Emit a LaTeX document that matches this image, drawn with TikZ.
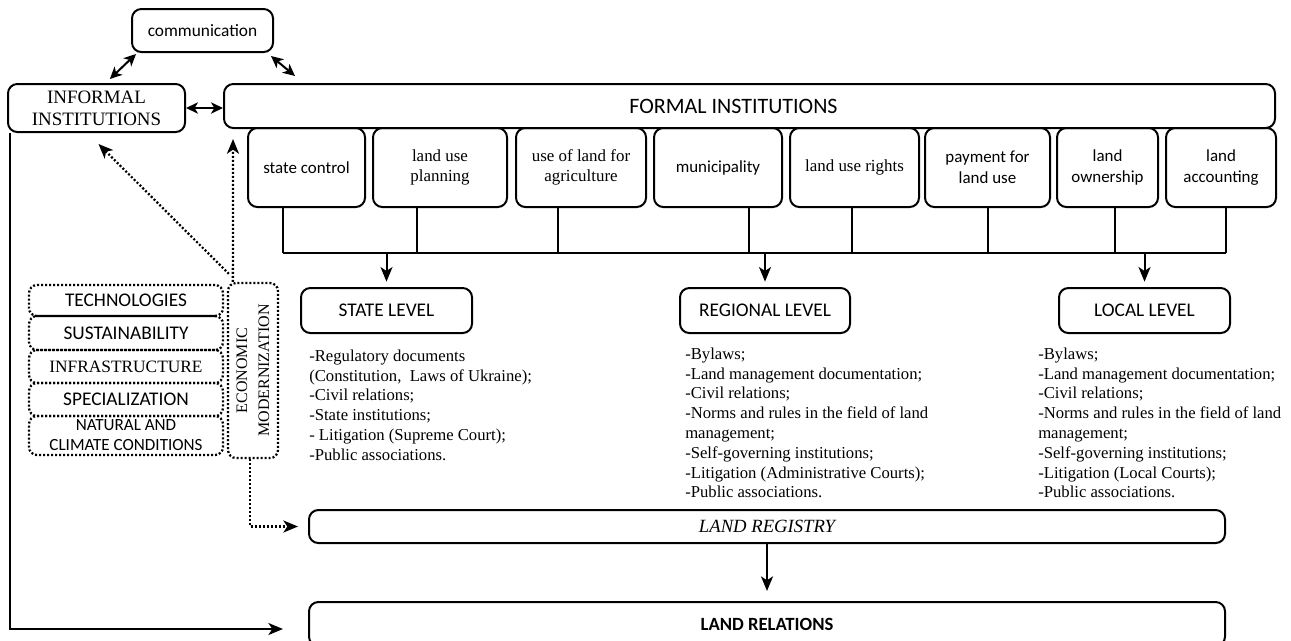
\documentclass[tikz,border=0pt]{standalone}
\usepackage{fontspec}
\setmainfont{Liberation Serif}
\setsansfont{Carlito}
\usetikzlibrary{arrows.meta,calc}

\begin{document}
\begin{tikzpicture}[x=0.75pt, y=-0.75pt,
  sz/.style 2 args={minimum width=#1*0.75pt, minimum height=#2*0.75pt},
  box/.style={draw, line width=1.5pt, rounded corners=7pt, inner sep=0pt, align=center},
  dotbox/.style={draw, line width=1.7pt, dash pattern=on 1.5pt off 1.5pt, rounded corners=6pt, inner sep=0pt, align=center},
  sans/.style={font=\sffamily\fontsize{12.7}{15.5}\selectfont},
  sansbig/.style={font=\sffamily\fontsize{14.5}{15}\selectfont},
  serif/.style={font=\fontsize{12.7}{15.5}\selectfont},
  list/.style={font=\fontsize{12.5}{14.85}\selectfont, align=left, inner sep=0pt, anchor=north west},
  line/.style={line width=1pt},
  tip/.style={-{Stealth[length=11pt,width=9pt,inset=3pt]}},
  arr/.style={line width=1.5pt, tip},
  dblarr/.style={line width=1.5pt, {Stealth[length=9pt,width=8.5pt,inset=2.5pt]}-{Stealth[length=9pt,width=8.5pt,inset=2.5pt]}},
  dotarr/.style={line width=1.7pt, dash pattern=on 1.5pt off 1.5pt, tip}]
\useasboundingbox (0,0) rectangle (1291,640);

\node[box, font=\sffamily\fontsize{13}{15.5}\selectfont, sz={141}{43}] (comm) at (202.5,30.5) {communication};
\node[box, sz={177}{48}, font=\fontsize{14.2}{16.5}\selectfont] (informal) at (96.5,108) {INFORMAL\\INSTITUTIONS};
\node[box, sz={1051}{44}, font=\sffamily\fontsize{16.5}{18}\selectfont] (formal) at (749.5,106) {FORMAL INSTITUTIONS\hspace*{24pt}};

\node[box, sans, sz={117}{79}] (sc) at (306.5,167.5) {state control};
\node[box, serif, sz={134}{79}] (lup) at (440,167.5) {land use\\planning};
\node[box, serif, sz={130}{79}] (agr) at (581,167.5) {use of land for\\agriculture};
\node[box, sans, sz={128}{79}] (mun) at (718,167.5) {municipality};
\node[box, serif, sz={129}{79}] (lur) at (854.5,167.5) {land use rights};
\node[box, sans, sz={125}{79}] (pay) at (987.5,167.5) {payment for\\land use};
\node[box, sans, sz={101}{79}] (own) at (1107.5,167.5) {land\\ownership};
\node[box, sans, sz={110}{79}] (acc) at (1221,167.5) {land\\accounting};

\node[box, sansbig, sz={171}{45}] (state) at (386.5,310.5) {STATE LEVEL};
\node[box, sansbig, sz={170}{45}] (regional) at (765,310.5) {REGIONAL LEVEL};
\node[box, sansbig, sz={171}{45}] (local) at (1144.5,310.5) {LOCAL LEVEL};

\node[list] (statelist) at (309,349.5) {-Regulatory documents\\(Constitution, \ Laws of Ukraine);\\-Civil relations;\\-State institutions;\\- Litigation (Supreme Court);\\-Public associations.};
\node[list] (reglist) at (685,347.5) {-Bylaws;\\-Land management documentation;\\-Civil relations;\\-Norms and rules in the field of land\\management;\\-Self-governing institutions;\\-Litigation (Administrative Courts);\\-Public associations.};
\node[list] (loclist) at (1038,347.5) {-Bylaws;\\-Land management documentation;\\-Civil relations;\\-Norms and rules in the field of land\\management;\\-Self-governing institutions;\\-Litigation (Local Courts);\\-Public associations.};

\node[box, sz={916}{33}, font=\itshape\fontsize{14}{16}\selectfont] (registry) at (767,526.5) {LAND REGISTRY};
\node[box, sz={916}{44}, font=\sffamily\bfseries\fontsize{14}{16}\selectfont] (relations) at (767,624) {LAND RELATIONS};

\node[dotbox, sansbig, sz={194}{31}] (tech) at (126,300.5) {TECHNOLOGIES};
\node[dotbox, sansbig, sz={194}{34}] (sust) at (126,333) {SUSTAINABILITY};
\node[dotbox, sz={194}{33}, font=\fontsize{13}{15}\selectfont] (infra) at (126,366.5) {INFRASTRUCTURE};
\node[dotbox, sansbig, sz={194}{33}] (spec) at (126,399.5) {SPECIALIZATION};
\node[dotbox, sz={194}{39}, font=\sffamily\fontsize{12.8}{15}\selectfont] (nat) at (126,435.5) {NATURAL AND\\CLIMATE CONDITIONS};
\node[dotbox, rotate=90, sz={175}{50}, font=\fontsize{12}{16.5}\selectfont] (econ) at (253,370.5) {ECONOMIC\\MODERNIZATION};

\draw[dblarr] ([xshift=10pt,yshift=3pt]informal.north) -- ([xshift=3.75pt,yshift=-0.75pt]comm.south west);
\draw[dblarr] ([xshift=-2.25pt,yshift=-2.25pt]comm.south east) -- ([xshift=54pt,yshift=5.25pt]formal.north west);
\draw[dblarr] (informal.east) -- (informal.east -| formal.west);

\coordinate (bus) at (0,253);
\foreach \n/\dx in {sc/-23.5,lup/-23,agr/-23,mun/31,lur/-2.5,pay/0.5,own/7.5,acc/5}
  \draw[line] ($(\n.south)+(\dx,0)$) -- ($(\n.south |- bus)+(\dx,0)$);
\draw[line] ($(sc.south |- bus)+(-23.5,0)$) -- ($(acc.south |- bus)+(5,0)$);
\foreach \n in {state,regional,local}
  \draw[arr] (\n.north |- bus) -- ([yshift=4pt]\n.north);

\draw[arr] (registry.south) -- ([yshift=7.5pt]relations.north);
\draw[arr] ([xshift=2.25pt]informal.south west) |- ([xshift=-18.75pt,yshift=-3.75pt]relations.west);

\draw[dotarr] ([xshift=4.5pt]econ.north east) -- ([xshift=7.5pt,yshift=-7.5pt]formal.south west);
\draw[dotarr] ([xshift=1.5pt,yshift=6pt]econ.north east) -- ([xshift=1.5pt,yshift=-8.25pt]informal.south);
\draw[dotarr] ([xshift=-2.25pt]econ.west) |- ([xshift=-7.5pt]registry.west);
\end{tikzpicture}
\end{document}
